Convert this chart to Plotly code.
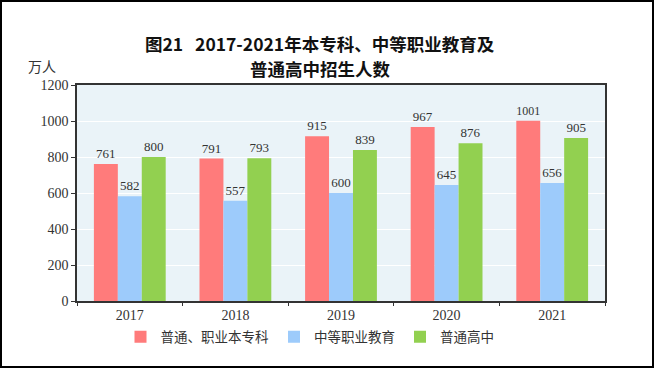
import plotly.graph_objects as go

years = ["2017", "2018", "2019", "2020", "2021"]
s_names = ["普通、职业本专科", "中等职业教育", "普通高中"]
higher = [761, 791, 915, 967, 1001]
vocational = [582, 557, 600, 645, 656]
senior_high = [800, 793, 839, 876, 905]
y_ticks = [0, 200, 400, 600, 800, 1000, 1200]
title_lines = ["图21&nbsp;&nbsp;&nbsp;2017-2021年本专科、中等职业教育及", "普通高中招生人数"]

colors = ["#ff7b7b", "#9dcbfb", "#92d050"]
serif = "Liberation Serif"
cjk = "Noto Sans CJK SC"

fig = go.Figure()
for name, vals, c in zip(s_names, [higher, vocational, senior_high], colors):
    fig.add_trace(go.Bar(
        x=years, y=vals, name=name, marker=dict(color=c, line=dict(width=0)),
        text=[str(v) for v in vals], textposition="outside", cliponaxis=False,
        textfont=dict(family=serif, size=13, color="#333333"),
    ))

W, H = 654, 368
ml, mr, mt, mb = 77, 49, 85, 67
pw, ph = W - ml - mr, H - mt - mb

annos = [dict(
    text="万人", xref="paper", yref="paper",
    x=-35 / pw, y=1 + 19 / ph, xanchor="center", yanchor="middle",
    showarrow=False, font=dict(family=cjk, size=14, color="#333333"),
)]
for i, t in enumerate(title_lines):
    annos.append(dict(
        text=t, xref="paper", yref="paper",
        x=(320 - ml) / pw, y=1 + (mt - (44 + 24 * i)) / ph,
        xanchor="center", yanchor="middle", showarrow=False,
        font=dict(family=cjk, size=17.5, color="#111111", weight="bold"),
    ))

fig.update_layout(
    width=W, height=H,
    margin=dict(l=ml, r=mr, t=mt, b=mb, autoexpand=False),
    paper_bgcolor="white", plot_bgcolor="#eaf3f8",
    barmode="group", bargap=0.32, bargroupgap=0,
    legend=dict(
        orientation="h", x=(310 - ml) / pw, xanchor="center",
        y=-(337 - mt - ph) / ph, yanchor="middle",
        font=dict(family=cjk, size=13.5, color="#333333"),
        itemwidth=30, traceorder="normal",
        bgcolor="rgba(0,0,0,0)",
    ),
    xaxis=dict(
        type="category", showline=True, linecolor="#333333", linewidth=1.5,
        mirror=True, ticks="outside", tickson="boundaries", ticklen=3,
        tickcolor="#333333", tickfont=dict(family=serif, size=14, color="#333333"),
        showgrid=False,
    ),
    yaxis=dict(
        range=[0, 1200], tickvals=y_ticks, showline=True, linecolor="#333333",
        linewidth=1.5, mirror=True, ticks="outside", ticklen=4, tickcolor="#333333",
        tickfont=dict(family=serif, size=14, color="#333333"),
        showgrid=True, gridcolor="white", gridwidth=1.2, zeroline=False,
    ),
    annotations=annos,
    shapes=[dict(
        type="rect", xref="paper", yref="paper",
        x0=(-ml + 1) / pw, x1=1 + (mr - 1) / pw,
        y0=(-mb + 1) / ph, y1=1 + (mt - 1) / ph,
        line=dict(color="black", width=2), layer="above",
    )],
)

fig.write_html(
    "out.html",
    config={"displayModeBar": False},
    post_script="document.body.style.margin='0';document.body.style.overflow='hidden';",
)
